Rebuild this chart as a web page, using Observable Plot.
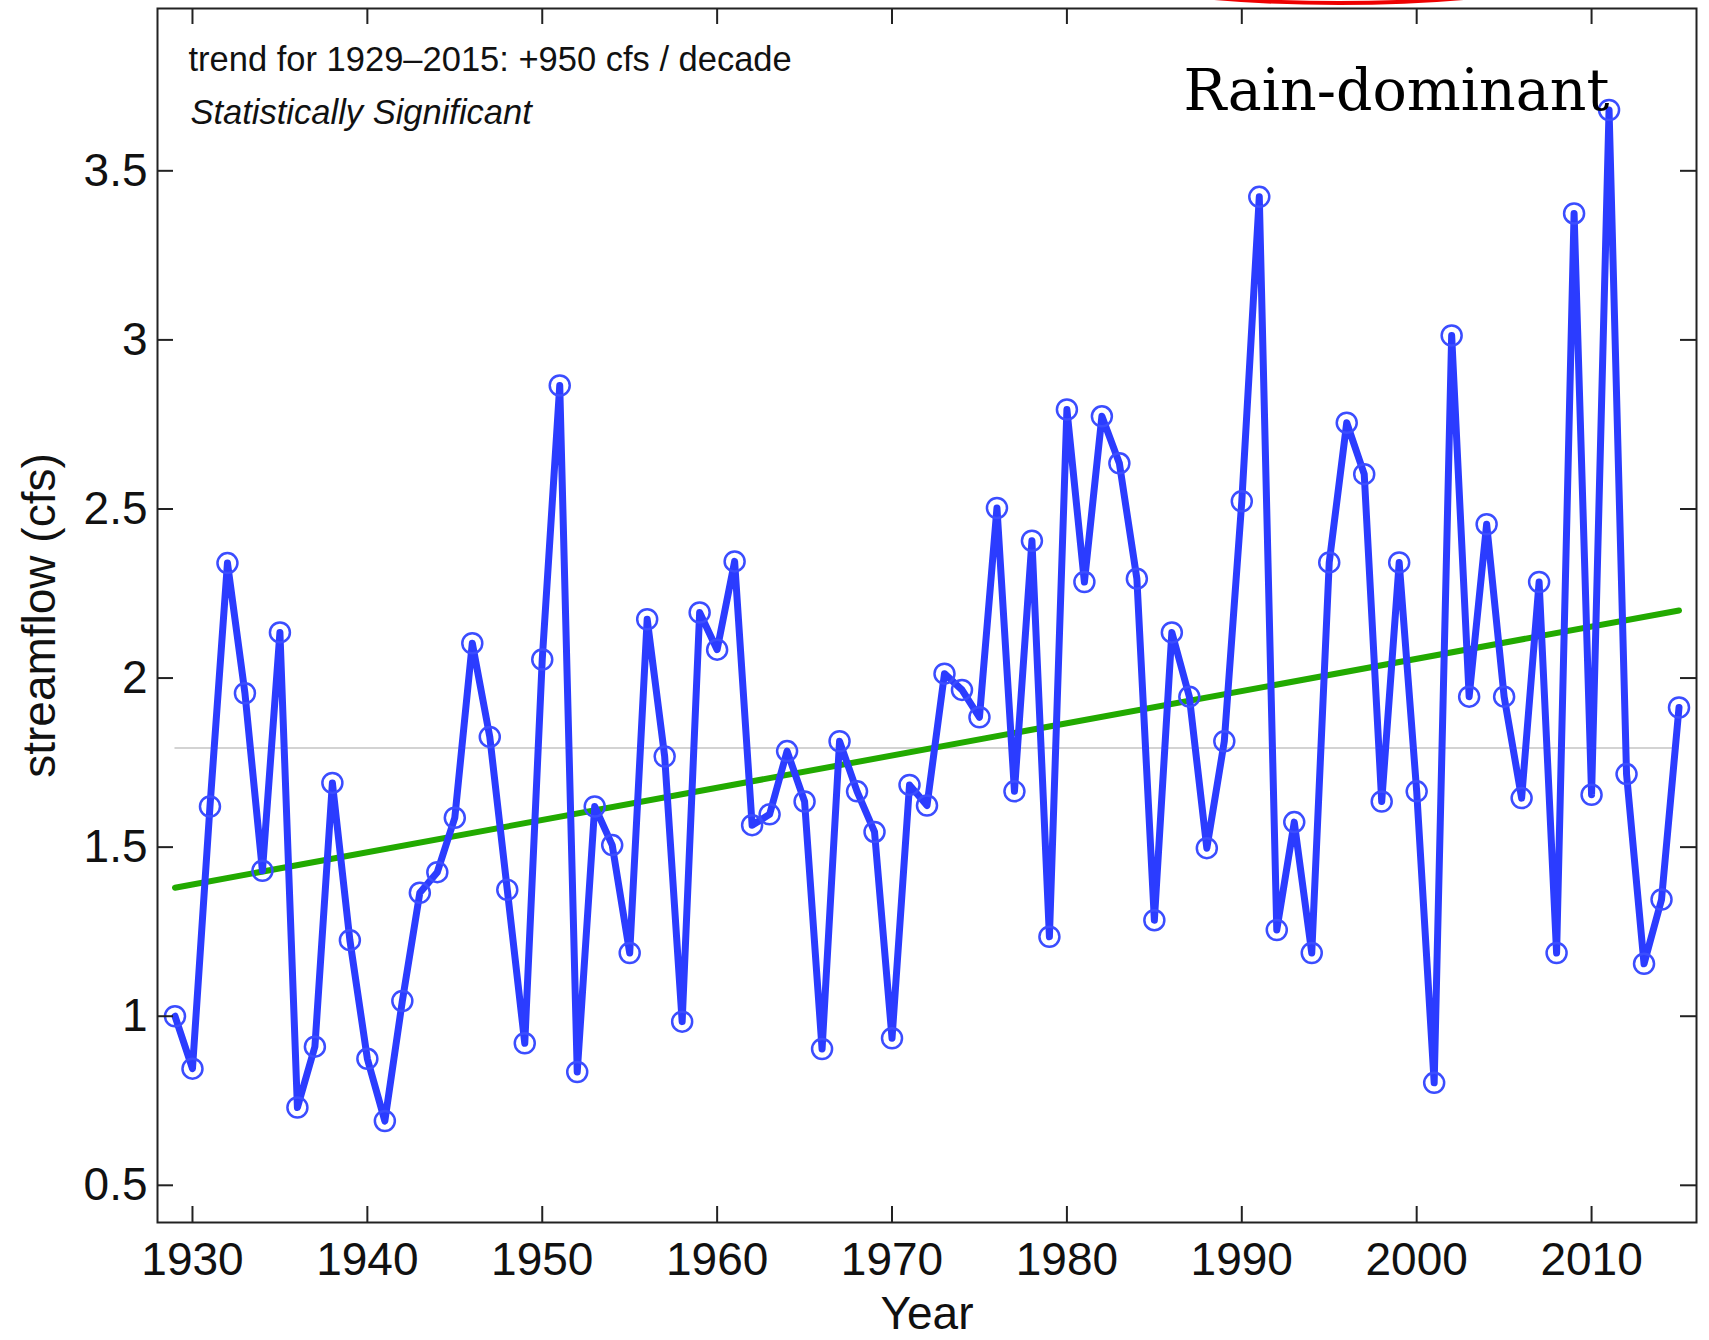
<!DOCTYPE html>
<html><head><meta charset="utf-8">
<script src="https://cdn.jsdelivr.net/npm/d3@7"></script>
<script src="https://cdn.jsdelivr.net/npm/@observablehq/plot@0.6"></script>
<style>body{margin:0;background:#fff}#chart svg{display:block}</style>
</head><body><div id="chart"></div>
<script>
const years = [1929,1930,1931,1932,1933,1934,1935,1936,1937,1938,1939,1940,1941,1942,1943,1944,1945,1946,1947,1948,1949,1950,1951,1952,1953,1954,1955,1956,1957,1958,1959,1960,1961,1962,1963,1964,1965,1966,1967,1968,1969,1970,1971,1972,1973,1974,1975,1976,1977,1978,1979,1980,1981,1982,1983,1984,1985,1986,1987,1988,1989,1990,1991,1992,1993,1994,1995,1996,1997,1998,1999,2000,2001,2002,2003,2004,2005,2006,2007,2008,2009,2010,2011,2012,2013,2014,2015];
const streamflow = [1.00,0.845,1.62,2.34,1.955,1.43,2.135,0.73,0.91,1.69,
 1.225,0.874,0.69,1.045,1.365,1.426,1.587,2.103,1.826,1.374,
 0.92,2.055,2.865,0.835,1.62,1.506,1.187,2.174,1.768,0.984,
 2.194,2.084,2.345,1.565,1.597,1.784,1.635,0.903,1.813,1.665,
 1.545,0.935,1.684,1.623,2.013,1.965,1.884,2.503,1.665,2.406,
 1.235,2.794,2.284,2.774,2.635,2.294,1.284,2.135,1.945,1.497,
 1.813,2.523,3.423,1.255,1.574,1.187,2.342,2.755,2.603,1.635,
 2.342,1.665,0.803,3.013,1.945,2.455,1.945,1.645,2.284,1.187,
 3.374,1.655,3.68,1.716,1.155,1.345,1.913];
const xTicks = [1930,1940,1950,1960,1970,1980,1990,2000,2010];
const yTicks = [0.5,1,1.5,2,2.5,3,3.5];
const yTickLabels = ["0.5","1","1.5","2","2.5","3","3.5"];
const trendYears = [1929, 2015];
const trendValues = [1.38, 2.20];
const trendText = "trend for 1929\u20132015: +950 cfs / decade";
const sigText = "Statistically Significant";
const regionText = "Rain-dominant";
const xLabel = "Year";
const yLabel = "streamflow (cfs)";

const series = years.map((y, i) => ({year: y, value: streamflow[i]}));
const trend = trendYears.map((y, i) => ({year: y, value: trendValues[i]}));
const meanValue = d3.mean(streamflow);

const W = 1709, H = 1340, mL = 157, mR = 13, mT = 8, mB = 118;
const plotW = W - mL - mR, plotH = H - mT - mB;
const tickLen = 16;
const font = "'Liberation Sans', Arial, Helvetica, sans-serif";

const chart = Plot.plot({
  width: W, height: H,
  marginLeft: mL, marginRight: mR, marginTop: mT, marginBottom: mB,
  style: {fontFamily: font, fontSize: "46px", background: "#fff", color: "#111"},
  x: {domain: [1928, 2016], ticks: xTicks, tickSize: 0, tickPadding: 20, tickFormat: d => String(d), label: null},
  y: {domain: [0.39, 3.98], ticks: yTicks, tickSize: 0, tickPadding: 10, tickFormat: d => yTickLabels[yTicks.indexOf(d)], label: null},
  marks: [
    Plot.ruleY([meanValue], {x1: years[0], x2: years[years.length - 1], stroke: "#c4c4c4", strokeWidth: 1.5}),
    Plot.line(trend, {x: "year", y: "value", stroke: "#22aa00", strokeWidth: 6}),
    Plot.line(series, {x: "year", y: "value", stroke: "#2b3cff", strokeWidth: 7, strokeLinejoin: "round"}),
    Plot.dot(series, {x: "year", y: "value", r: 10, stroke: "#3b4dff", strokeWidth: 2.5, fill: "none"}),
    // inward ticks on all four sides
    Plot.ruleX(xTicks, {x: d => d, insetTop: plotH - tickLen, stroke: "#222", strokeWidth: 2}),
    Plot.ruleX(xTicks, {x: d => d, insetBottom: plotH - tickLen, stroke: "#222", strokeWidth: 2}),
    Plot.ruleY(yTicks, {y: d => d, insetRight: plotW - tickLen, stroke: "#222", strokeWidth: 2}),
    Plot.ruleY(yTicks, {y: d => d, insetLeft: plotW - tickLen, stroke: "#222", strokeWidth: 2}),
    Plot.frame({stroke: "#222", strokeWidth: 2}),
    Plot.text([trendText], {frameAnchor: "top-left", dx: 31, dy: 62, textAnchor: "start", lineAnchor: "bottom", fontSize: 34.5, fill: "#111"}),
    Plot.text([sigText], {frameAnchor: "top-left", dx: 33, dy: 115, textAnchor: "start", lineAnchor: "bottom", fontSize: 34.5, fontStyle: "italic", fill: "#111"}),
    Plot.text([regionText], {frameAnchor: "top-left", dx: 1026, dy: 101, textAnchor: "start", lineAnchor: "bottom", fontSize: 57, fontFamily: "'DejaVu Serif', serif", fill: "#000"}),
    Plot.text([xLabel], {frameAnchor: "bottom", dy: 106, lineAnchor: "bottom", fontSize: 46, fill: "#111"}),
    Plot.text([yLabel], {frameAnchor: "left", dx: -117, rotate: -90, textAnchor: "middle", lineAnchor: "middle", fontSize: 46, fill: "#111"})
  ]
});
document.getElementById("chart").appendChild(chart);
// decorative red annotation arc peeking at the top edge
d3.select(chart).append("ellipse")
  .attr("cx", 1339).attr("cy", -57).attr("rx", 306).attr("ry", 60)
  .attr("fill", "none").attr("stroke", "#ee0000").attr("stroke-width", 4);
</script>
</body></html>
